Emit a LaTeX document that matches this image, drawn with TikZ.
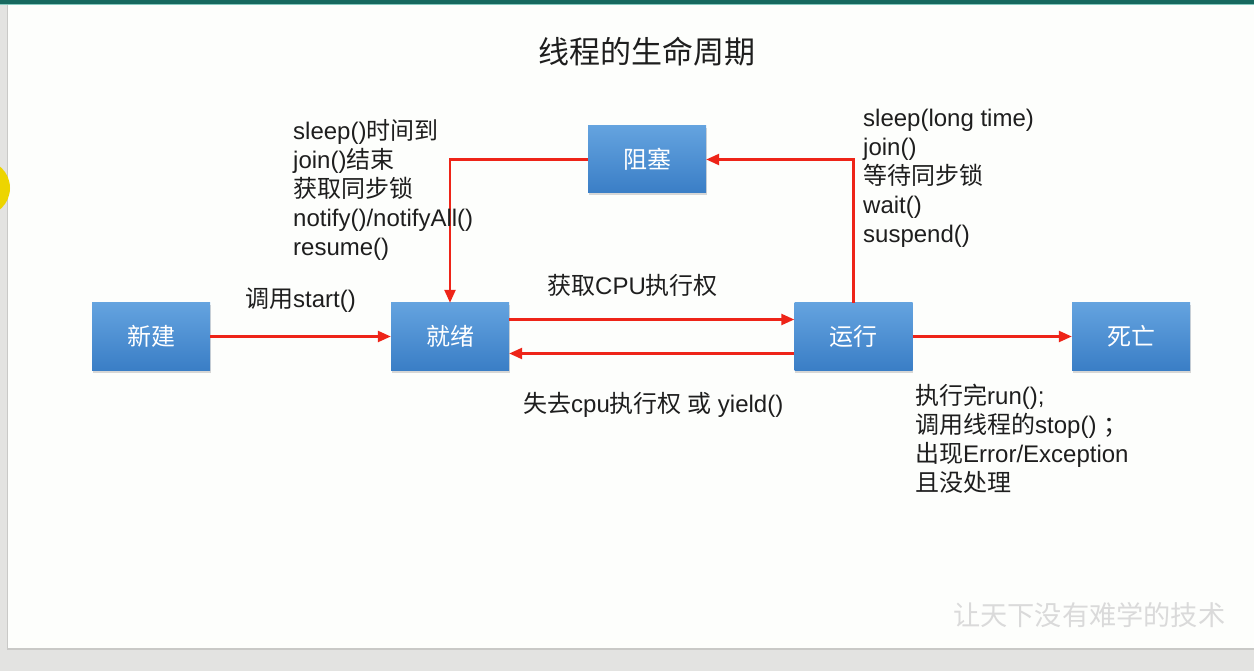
\documentclass[tikz,border=0pt]{standalone}
\usepackage{fontspec}
\setmainfont{Liberation Sans}
\newfontfamily\zhfont{Noto Sans CJK SC}
\newcommand{\zh}[1]{{\zhfont #1}}
\usetikzlibrary{arrows.meta,shadows}

\definecolor{framegray}{HTML}{E3E3E1}
\definecolor{edgegray}{HTML}{C9C9C7}
\definecolor{pagewhite}{HTML}{FDFEFC}
\definecolor{tealband}{HTML}{17695F}
\definecolor{tealline}{HTML}{86C9BF}
\definecolor{boxtop}{HTML}{64A3DF}
\definecolor{boxbottom}{HTML}{3A7EC6}
\definecolor{flowred}{HTML}{EE2418}
\definecolor{inkgray}{HTML}{1E1E1E}
\definecolor{markgray}{HTML}{DADADA}
\definecolor{pointer}{HTML}{EDD500}

\tikzset{
  state/.style={rectangle, minimum width=118pt, minimum height=67pt, inner sep=0pt,
    top color=boxtop, bottom color=boxbottom, draw=none,
    drop shadow={opacity=0.3, shadow xshift=0.5pt, shadow yshift=-2.5pt},
    text=white, font=\fontsize{24}{29}\selectfont\zhfont},
  flow/.style={draw=flowred, line width=2.4pt,
    -{Triangle[length=13pt,width=11pt]}},
  lbl/.style={inner sep=0pt, text=inkgray, font=\fontsize{24}{29}\selectfont},
}

\begin{document}
\begin{tikzpicture}[x=1pt,y=-1pt]
  \clip (0,0) rectangle (1254,671);
  % window frame and slide page
  \fill[framegray] (0,0) rectangle (1254,671);
  \fill[edgegray] (7,4) rectangle (1254,650);
  \fill[pagewhite] (8,5) rectangle (1254,648);
  \fill[tealband] (0,0) rectangle (1254,4);
  \fill[tealline] (0,4) rectangle (1254,5.2);
  % pointer highlight at the left edge
  \fill[pointer] (-18,188) circle (28);

  % title
  \node[lbl, font=\fontsize{31}{36}\selectfont\zhfont, anchor=base] (title) at (646.5,64) {线程的生命周期};

  % states
  \node[state] (xinjian) at (151,336.5) {新建};
  \node[state] (jiuxu)   at (450,336.5) {就绪};
  \node[state] (yunxing) at (853.5,336.5) {运行};
  \node[state] (siwang)  at (1131,336.5) {死亡};
  \node[state] (zusai)   at (647,159.5) {阻塞};

  % transitions
  \draw[flow] (xinjian.east) -- (jiuxu.west);
  \draw[flow] ([yshift=17pt]jiuxu.east) -- ([yshift=17pt]yunxing.west);
  \draw[flow] ([yshift=-17pt]yunxing.west) -- ([yshift=-17pt]jiuxu.east);
  \draw[flow] (yunxing.east) -- (siwang.west);
  \draw[flow] (yunxing.north) |- (zusai.east);
  \draw[flow] (zusai.west) -| (jiuxu.north);

  % transition labels (multi-line blocks are placed by their last baseline)
  \node[lbl, anchor=base west] (lstart) at (245,308) {\zh{调用}start()};
  \node[lbl, anchor=base west] (lgain) at (547,295) {\zh{获取}CPU\zh{执行权}};
  \node[lbl, anchor=base west] (llose) at (523,412) {\zh{失去}cpu\zh{执行权 或} yield()};
  \node[lbl, anchor=base west, align=left] (lwake) at (293,256)
    {sleep()\zh{时间到}\\join()\zh{结束}\\\zh{获取同步锁}\\notify()/notifyAll()\\resume()};
  \node[lbl, anchor=base west, align=left] (lblock) at (863,243)
    {sleep(long time)\\join()\\\zh{等待同步锁}\\wait()\\suspend()};
  \node[lbl, anchor=base west, align=left] (lend) at (915,491)
    {\zh{执行完}run();\\\zh{调用线程的}stop() \zh{；}\\\zh{出现}Error/Exception\\\zh{且没处理}};

  % footer motto
  \node[inner sep=0pt, text=markgray, font=\fontsize{27.2}{30}\selectfont\zhfont, anchor=base west] (motto) at (953,625) {让天下没有难学的技术};
\end{tikzpicture}
\end{document}
